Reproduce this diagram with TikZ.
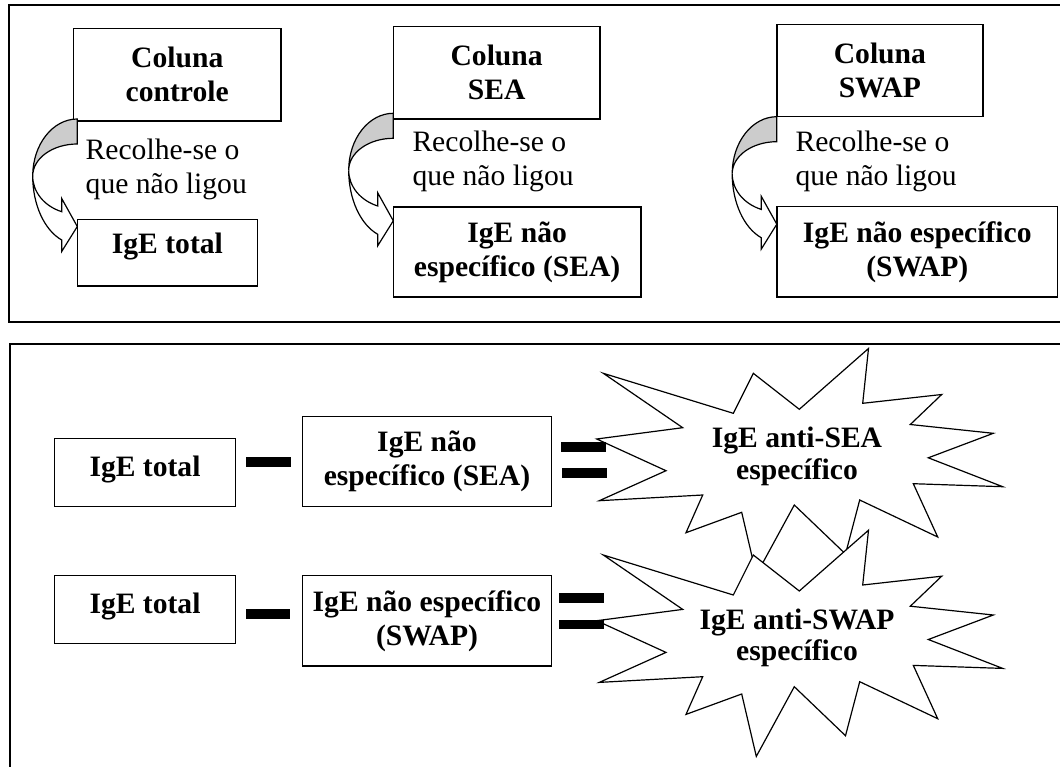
\documentclass[tikz,border=0pt]{standalone}
\usepackage{fontspec}
\setmainfont{Liberation Serif}

\begin{document}
\begin{tikzpicture}[x=1pt, y=-1pt,
  caixa/.style={draw, line width=1.5pt, inner sep=0pt, align=center,
    font=\fontsize{29.6}{34}\selectfont\bfseries},
  nota/.style={inner sep=0pt, align=left, anchor=west,
    font=\fontsize{29.6}{34}\selectfont},
  rotulo/.style={inner sep=0pt, align=center,
    font=\fontsize{29.6}{31.7}\selectfont\bfseries},
  estrela/.style={draw, fill=white, line width=1.2pt},
  barra/.style={fill=black}]
  \useasboundingbox (0,0) rectangle (1060,767);
  \clip (0,0) rectangle (1060,767);

  % frames
  \draw[line width=1.9pt] (9,5) rectangle (1075,321.7);
  \draw[line width=1.9pt] (10,344) rectangle (1075,790);

  %-------------
  \node[caixa, minimum width=207.5, minimum height=92.5] (colctrl) at (177.25,74.75) {Coluna\\controle};
  \node[caixa, minimum width=206.7, minimum height=92.5] (colsea) at (496.65,72.75) {Coluna\\SEA};
  \node[caixa, minimum width=206.2, minimum height=92.4] (colswap) at (879.9,70.5) {Coluna\\SWAP};

  \node[caixa, minimum width=180.2, minimum height=66.7, text height=20pt, text depth=19pt] (totctrl) at (167.4,252.65) {IgE total};
  \node[caixa, minimum width=247.7, minimum height=90] (nesea) at (517.15,252) {IgE não\\específico (SEA)};
  \node[caixa, minimum width=280.9, minimum height=90.3] (neswap) at (917.25,251.85) {IgE não específico\\(SWAP)};

  % curved arrows
  \foreach \tx/\ty in {77.3/119, 393.3/113.3, 776.8/116.7}{
    \begin{scope}[shift={(\tx,\ty)}, line width=1.2pt]
      \draw[fill=gray!40] (0,0) .. controls (-24.6,0) and (-44.6,25.5) .. (-44.6,57)
        .. controls (-44.6,39.3) and (-24.6,25) .. (0,25) -- cycle;
      \draw[fill=white] (-44.6,57) .. controls (-44.6,73) and (-33.1,87.1) .. (-15.6,92.7)
        -- (-15.6,79.5) -- (0,107.5) -- (-15.6,132.5) -- (-15.6,121)
        .. controls (-33.1,111) and (-44.6,85.5) .. cycle;
    \end{scope}
  }

  \node[nota] (rec1) at (85.5,169.4) {Recolhe-se o\\que não ligou};
  \node[nota] (rec2) at (412.3,161.8) {Recolhe-se o\\que não ligou};
  \node[nota] (rec3) at (795.4,161.8) {Recolhe-se o\\que não ligou};

  %-------------
  \node[caixa, minimum width=181.4, minimum height=68.4, text height=20pt, text depth=13pt] (tot1) at (145,472.5) {IgE total};
  \node[caixa, minimum width=249.4, minimum height=90] (nesea1) at (427,461.3) {IgE não\\específico (SEA)};

  \node[caixa, minimum width=181.4, minimum height=67.6, text height=20pt, text depth=12.5pt] (tot2) at (145,609.5) {IgE total};
  \node[caixa, minimum width=249.4, minimum height=90.3] (neswap2) at (427,620.85) {IgE não específico\\(SWAP)};

  % stars
  \draw[estrela] (603.3,373.3) -- (733.3,413.3) -- (753.3,373.3) -- (799.3,409.3)
    -- (868.5,348.5) -- (862.7,403.3) -- (941.7,394.5) -- (910.3,424.5)
    -- (993.3,433.3) -- (928.3,457.8) -- (1002.7,486.7) -- (913.3,483.7)
    -- (937.7,537) -- (859.7,500) -- (845.5,554) -- (794.3,505)
    -- (756.3,574.7) -- (741.7,512.3) -- (686,532.7) -- (702.7,495)
    -- (599.3,500.7) -- (666,470.7) -- (596.7,439) -- (682.7,427.7) -- cycle;
  \node[rotulo] (antisea) at (797,456.2) {IgE anti-SEA\\específico};

  \begin{scope}[yshift=-181.7pt]
    \draw[estrela] (603.3,373.3) -- (733.3,413.3) -- (753.3,373.3) -- (799.3,409.3)
      -- (868.5,348.5) -- (862.7,403.3) -- (941.7,394.5) -- (910.3,424.5)
      -- (993.3,433.3) -- (928.3,457.8) -- (1002.7,486.7) -- (913.3,483.7)
      -- (937.7,537) -- (859.7,500) -- (845.5,554) -- (794.3,505)
      -- (756.3,574.7) -- (741.7,512.3) -- (686,532.7) -- (702.7,495)
      -- (599.3,500.7) -- (666,470.7) -- (596.7,439) -- (682.7,427.7) -- cycle;
    \node[rotulo] (antiswap) at (797,456.2) {IgE anti-SWAP\\específico};
  \end{scope}

  % minus and equals
  \path[barra] (246,457.3) rectangle (290.7,467.3);
  \path[barra] (561,442) rectangle (606,452.3);
  \path[barra] (562,468) rectangle (607,478.3);

  \path[barra] (246,609.3) rectangle (290,619.3);
  \path[barra] (559.3,593.3) rectangle (604.3,603);
  \path[barra] (559,620) rectangle (604,629.3);

\end{tikzpicture}
\end{document}
